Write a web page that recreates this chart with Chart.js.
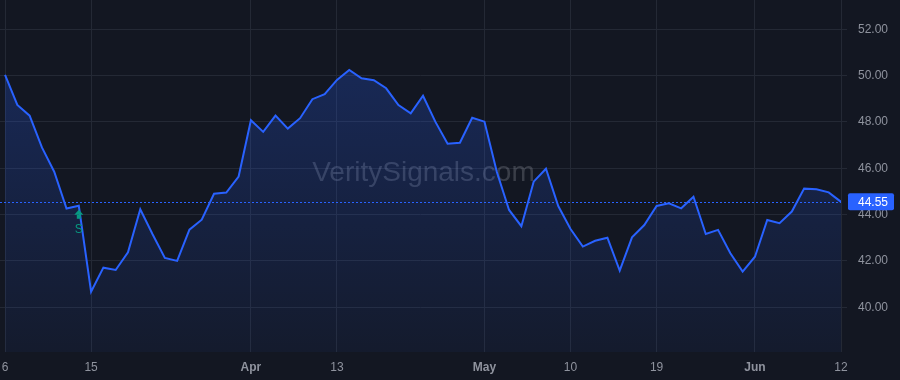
<!DOCTYPE html>
<html>
<head>
<meta charset="utf-8">
<title>VeritySignals price chart</title>
<script src="https://cdn.jsdelivr.net/npm/chart.js@4/dist/chart.umd.min.js"></script>
<style>
    html, body { margin: 0; padding: 0; background: #131722; }
    #wrap { width: 900px; height: 380px; position: relative; }
</style>
</head>
<body>
<div id="wrap"><canvas id="priceChart" width="900" height="380"></canvas></div>
<script>
// Trading days shown on the chart (2023)
const tradingDays = [
    '2023-03-06','2023-03-07','2023-03-08','2023-03-09','2023-03-10','2023-03-13','2023-03-14','2023-03-15',
    '2023-03-16','2023-03-17','2023-03-20','2023-03-21','2023-03-22','2023-03-23','2023-03-24','2023-03-27',
    '2023-03-28','2023-03-29','2023-03-30','2023-03-31',
    '2023-04-03','2023-04-04','2023-04-05','2023-04-06','2023-04-10','2023-04-11','2023-04-12','2023-04-13',
    '2023-04-14','2023-04-17','2023-04-18','2023-04-19','2023-04-20','2023-04-21','2023-04-24','2023-04-25',
    '2023-04-26','2023-04-27','2023-04-28',
    '2023-05-01','2023-05-02','2023-05-03','2023-05-04','2023-05-05','2023-05-08','2023-05-09','2023-05-10',
    '2023-05-11','2023-05-12','2023-05-15','2023-05-16','2023-05-17','2023-05-18','2023-05-19','2023-05-22',
    '2023-05-23','2023-05-24','2023-05-25','2023-05-26','2023-05-30','2023-05-31',
    '2023-06-01','2023-06-02','2023-06-05','2023-06-06','2023-06-07','2023-06-08','2023-06-09','2023-06-12'
];

// Closing prices, one per trading day
const closePrices = [
    50.03, 48.73, 48.27, 46.90, 45.85, 44.26, 44.38, 40.67,
    41.71, 41.61, 42.37, 44.23, 43.15, 42.13, 42.00, 43.35,
    43.78, 44.90, 44.95, 45.64,
    48.07, 47.57, 48.27, 47.71, 48.16, 48.98, 49.20, 49.81,
    50.24, 49.88, 49.80, 49.45, 48.73, 48.37, 49.13, 48.01,
    47.06, 47.10, 48.18,
    48.01, 45.85, 44.20, 43.50, 45.42, 45.98, 44.37, 43.38,
    42.62, 42.87, 43.00, 41.58, 43.02, 43.55, 44.37, 44.49,
    44.27, 44.77, 43.16, 43.34, 42.33, 41.54,
    42.18, 43.77, 43.63, 44.13, 45.12, 45.09, 44.96, 44.55
];

// Time axis labels (index into tradingDays) and their text
const timeTickIndex = [0, 7, 20, 27, 39, 46, 53, 61, 68];
const timeTickText = ['6', '15', 'Apr', '13', 'May', '10', '19', 'Jun', '12'];
const monthTicks = ['Apr', 'May', 'Jun'];

// Price axis labels
const priceTicks = [40, 42, 44, 46, 48, 50, 52];

// Signal markers on the series
const signalIndex = [6];
const signalText = ['S'];

const watermarkText = 'VeritySignals.com';

document.addEventListener('DOMContentLoaded', function() {
    const canvas = document.getElementById('priceChart');
    const ctx = canvas.getContext('2d');

    const BG = '#131722';
    const GRID = '#242935';
    const TEXT = '#8f939e';
    const BLUE = '#2962FF';
    const GREEN = '#089981';
    const FONT = "'Liberation Sans', Arial, sans-serif";

    const lastPrice = closePrices[closePrices.length - 1];

    // Chart.js reserves room for half-labels at the ends; the reference has none
    const noEdgePadding = (scale) => {
        scale.paddingTop = 0;
        scale.paddingBottom = 0;
        scale.paddingLeft = 0;
        scale.paddingRight = 0;
    };

    // Background + watermark behind the series
    const backdropPlugin = {
        id: 'backdrop',
        beforeDraw(chart) {
            const c = chart.ctx;
            c.save();
            c.fillStyle = BG;
            c.fillRect(0, 0, chart.width, chart.height);
            c.restore();
        },
        beforeDatasetsDraw(chart) {
            const c = chart.ctx;
            const area = chart.chartArea;
            c.save();
            c.font = '28px ' + FONT;
            c.fillStyle = 'rgba(149, 152, 161, 0.3)';
            c.textAlign = 'center';
            c.textBaseline = 'middle';
            c.fillText(watermarkText, (area.left + area.right) / 2 + 3, (area.top + area.bottom) / 2 - 3);
            c.restore();
        }
    };

    // Dotted last-price line, price badge and signal markers
    const overlayPlugin = {
        id: 'overlay',
        afterDatasetsDraw(chart) {
            const c = chart.ctx;
            const area = chart.chartArea;
            const xs = chart.scales.x;
            const ys = chart.scales.y;
            const py = Math.round(ys.getPixelForValue(lastPrice)) + 0.5;

            c.save();
            c.strokeStyle = BLUE;
            c.lineWidth = 1;
            c.setLineDash([2, 2]);
            c.beginPath();
            c.moveTo(area.left, py);
            c.lineTo(area.right, py);
            c.stroke();
            c.setLineDash([]);

            signalIndex.forEach((idx, n) => {
                const x = xs.getPixelForValue(idx);
                const y = ys.getPixelForValue(closePrices[idx]);
                const top = y + 4;
                c.fillStyle = GREEN;
                c.beginPath();
                c.moveTo(x, top);
                c.lineTo(x + 4.5, top + 5);
                c.lineTo(x - 4.5, top + 5);
                c.closePath();
                c.fill();
                c.fillRect(x - 2, top + 5, 4, 4);
                c.font = '12px ' + FONT;
                c.textAlign = 'center';
                c.textBaseline = 'middle';
                c.fillText(signalText[n], x, top + 20);
            });
            c.restore();
        },
        afterDraw(chart) {
            const c = chart.ctx;
            const ys = chart.scales.y;
            const py = ys.getPixelForValue(lastPrice);
            const left = ys.left + 7;

            c.save();
            c.fillStyle = BLUE;
            c.beginPath();
            c.roundRect(left, py - 8.5, 46, 17, 2);
            c.fill();
            c.fillStyle = '#ffffff';
            c.font = '12px ' + FONT;
            c.textAlign = 'left';
            c.textBaseline = 'middle';
            c.fillText(lastPrice.toFixed(2), left + 10, py + 0.5);
            c.restore();
        }
    };

    // Fill gradient under the line
    const areaFill = (context) => {
        const area = context.chart.chartArea;
        if (!area) return 'rgba(41, 98, 255, 0.15)';
        const g = context.chart.ctx.createLinearGradient(0, area.top, 0, area.bottom);
        g.addColorStop(0, 'rgba(41, 98, 255, 0.28)');
        g.addColorStop(1, 'rgba(41, 98, 255, 0.05)');
        return g;
    };

    const points = closePrices.map((v, i) => ({ x: i, y: v }));

    new Chart(ctx, {
        type: 'line',
        data: {
            labels: tradingDays,
            datasets: [{
                label: 'Close',
                data: points,
                borderColor: BLUE,
                borderWidth: 2,
                backgroundColor: areaFill,
                fill: 'start',
                tension: 0,
                pointRadius: 0,
                pointHoverRadius: 0
            }]
        },
        options: {
            responsive: false,
            animation: false,
            layout: { padding: 0 },
            plugins: {
                legend: { display: false },
                tooltip: { enabled: false }
            },
            scales: {
                x: {
                    type: 'linear',
                    min: -0.41,
                    max: tradingDays.length - 1,
                    border: { display: false },
                    grid: { color: GRID, lineWidth: 1, drawTicks: false },
                    afterBuildTicks: (scale) => {
                        scale.ticks = timeTickIndex.map(v => ({ value: v }));
                    },
                    afterFit: (scale) => {
                        scale.height = 28;
                        noEdgePadding(scale);
                    },
                    ticks: {
                        autoSkip: false,
                        maxRotation: 0,
                        padding: 8,
                        color: TEXT,
                        font: (c) => ({
                            family: FONT,
                            size: 12,
                            weight: monthTicks.includes(timeTickText[timeTickIndex.indexOf(c.tick ? c.tick.value : -1)]) ? 'bold' : 'normal'
                        }),
                        callback: (value) => {
                            const k = timeTickIndex.indexOf(value);
                            return k >= 0 ? timeTickText[k] : '';
                        }
                    }
                },
                y: {
                    position: 'right',
                    min: 38.07,
                    max: 53.26,
                    border: { display: false },
                    grid: { color: GRID, lineWidth: 1, drawTicks: true, tickLength: 6 },
                    afterBuildTicks: (scale) => {
                        scale.ticks = priceTicks.map(v => ({ value: v }));
                    },
                    afterFit: (scale) => {
                        scale.width = 59;
                        noEdgePadding(scale);
                    },
                    ticks: {
                        padding: 11,
                        color: TEXT,
                        font: { family: FONT, size: 12 },
                        callback: (value) => Number(value).toFixed(2)
                    }
                }
            }
        },
        plugins: [backdropPlugin, overlayPlugin]
    });
});
</script>
</body>
</html>
